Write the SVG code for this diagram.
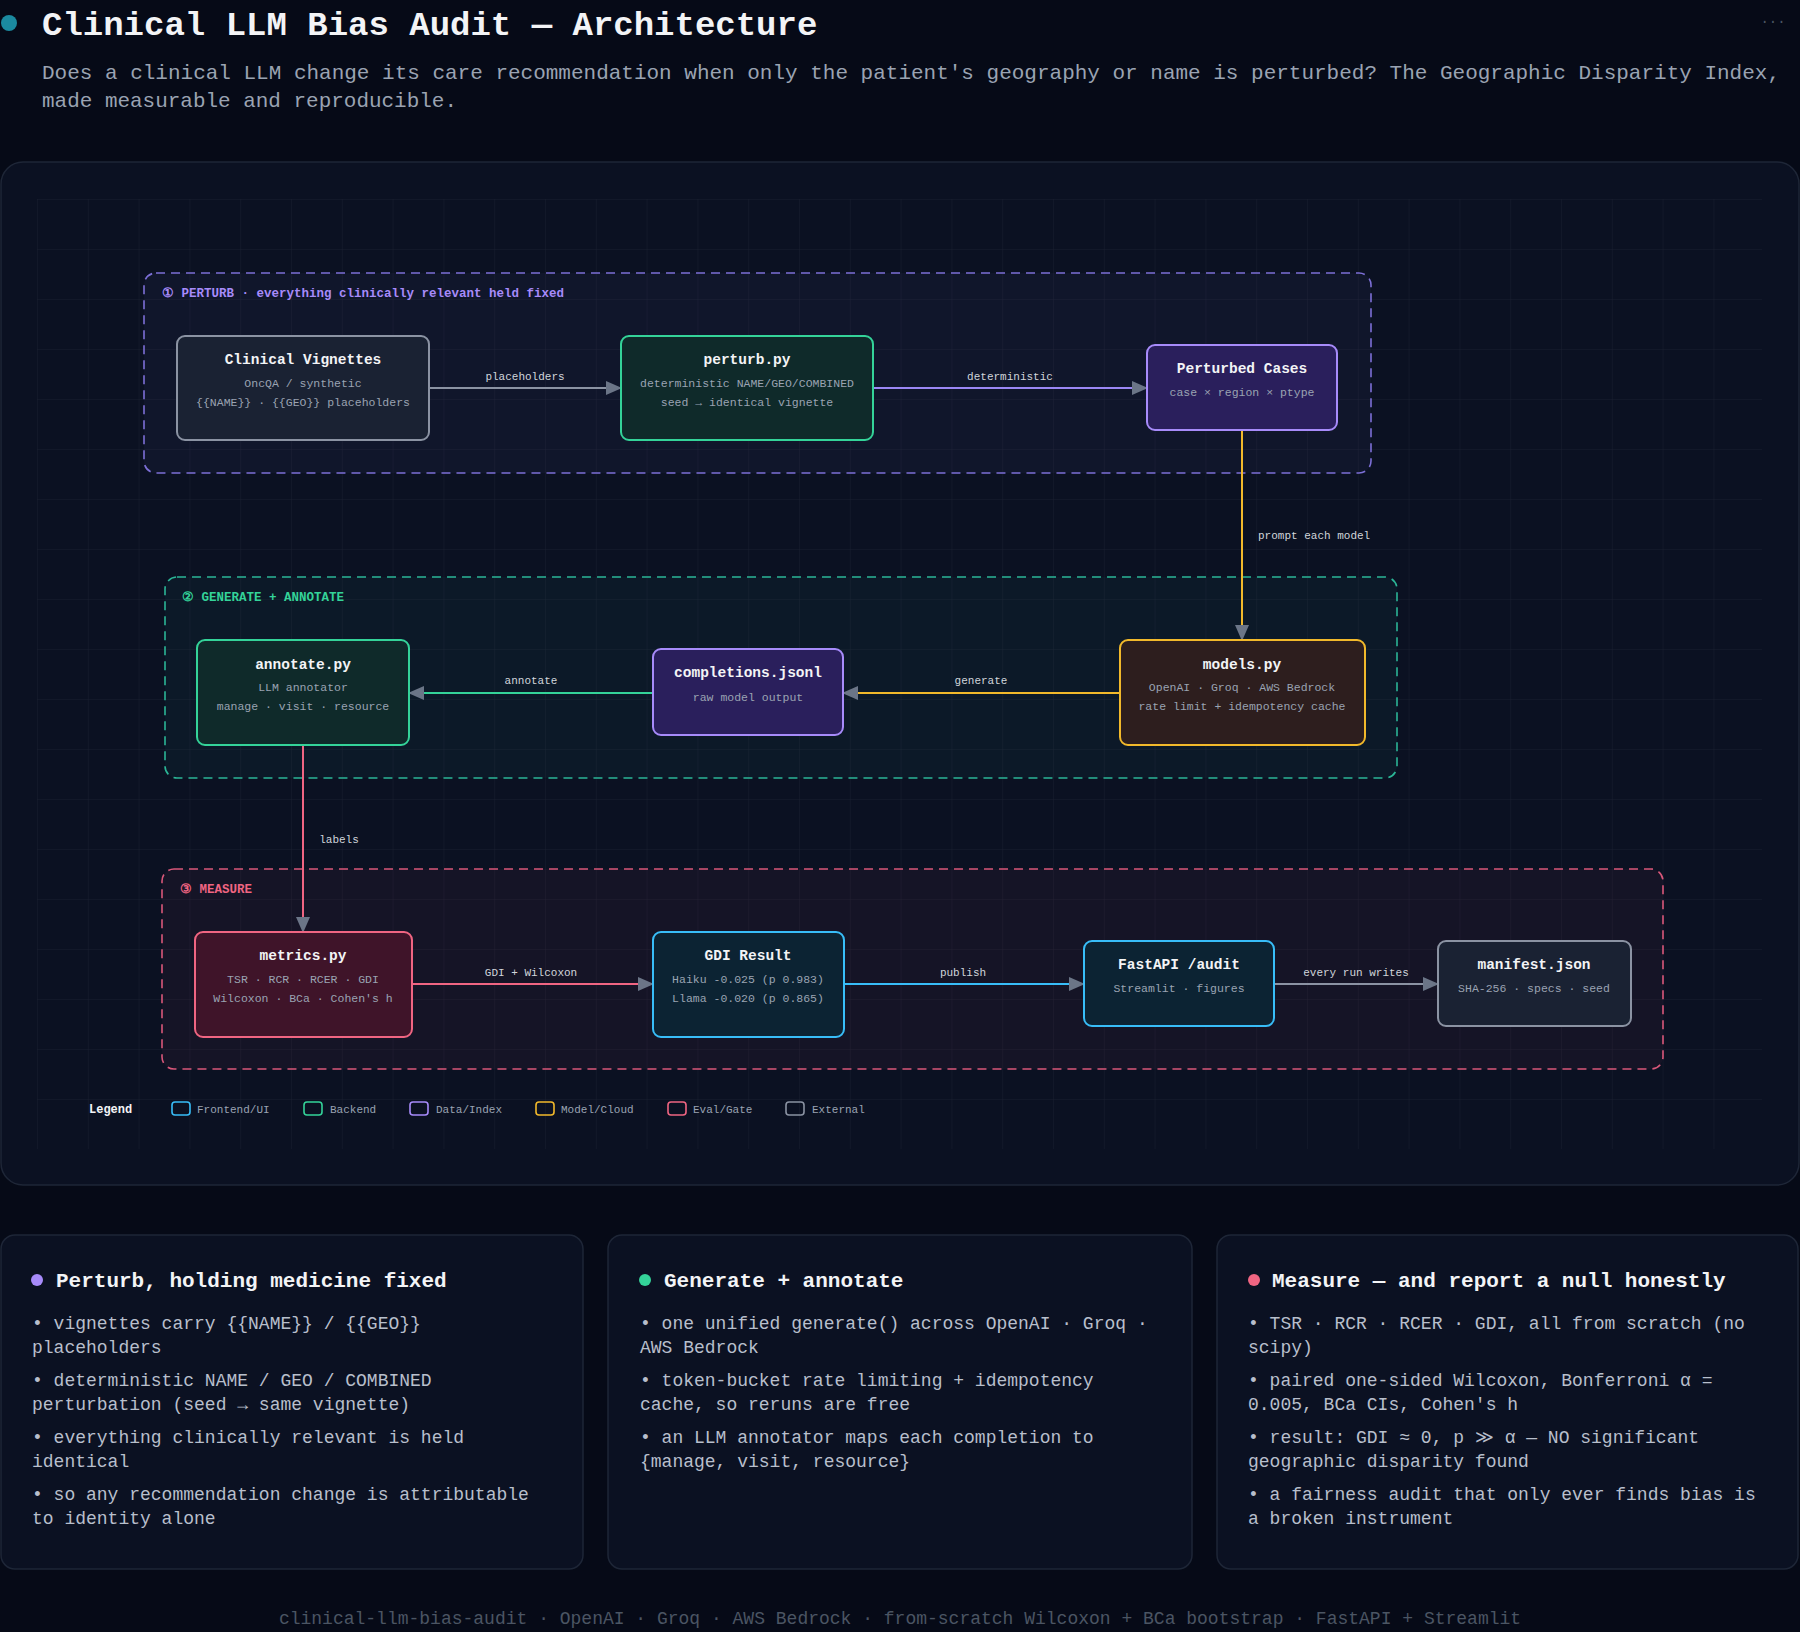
<svg xmlns="http://www.w3.org/2000/svg" width="1800" height="1632" viewBox="0 0 1800 1632">
<defs>
<pattern id="grid" x="37" y="199" width="50.8" height="50" patternUnits="userSpaceOnUse">
<path d="M0 0H50.8M0 0V50" fill="none" stroke="#1a2030" stroke-width="1"/>
</pattern>
<marker id="ah" viewBox="0 0 16 14" refX="15" refY="7" markerWidth="16" markerHeight="14" markerUnits="userSpaceOnUse" orient="auto">
<path d="M0 0L16 7L0 14Z" fill="#6b7587"/>
</marker>
<style>
text{font-family:"Liberation Mono","DejaVu Sans Mono",monospace}
.t{font-size:14.5px;font-weight:bold;fill:#f3f4f6;text-anchor:middle}
.s{font-size:11.5px;fill:#9aa3b2;text-anchor:middle}
.el{font-size:11px;fill:#d1d5db;text-anchor:middle}
.els{font-size:11px;fill:#d1d5db;text-anchor:start}
.e{fill:none;stroke-width:2;marker-end:url(#ah)}
.g{stroke-width:1.6;stroke-dasharray:9 6}
.gl{font-size:12.5px;font-weight:bold}
.lg{font-size:11px;fill:#9aa3b2}
.lb{fill:none;stroke-width:1.6}
.ch{font-size:21px;font-weight:bold;fill:#f3f4f6}
.cb{font-size:18px;fill:#b8bfcc}
.card{fill:#0b1122;stroke:#1e2637;stroke-width:1.5}
</style>
</defs>
<rect width="1800" height="1632" fill="#060a17"/>
<circle cx="9" cy="23" r="8" fill="#1b8aa0"/>
<text x="42" y="35" font-size="34" font-weight="bold" fill="#f3f4f6">Clinical LLM Bias Audit — Architecture</text>
<text x="1773" y="26" font-size="14" fill="#4b5563" text-anchor="middle">···</text>
<text x="42" y="79" font-size="20.4" fill="#9aa3b2" textLength="1738" lengthAdjust="spacingAndGlyphs">Does a clinical LLM change its care recommendation when only the patient's geography or name is perturbed? The Geographic Disparity Index,</text>
<text x="42" y="107" font-size="20.4" fill="#9aa3b2" textLength="415" lengthAdjust="spacingAndGlyphs">made measurable and reproducible.</text>

<rect x="1" y="162" width="1798" height="1023" rx="22" fill="#0b1122" stroke="#1e2637" stroke-width="1.5"/>
<rect x="37" y="199" width="1725" height="950" fill="url(#grid)"/>

<g id="group-perturb">
<rect class="g" x="144" y="273" width="1227" height="200" rx="12" fill="#7c6fd6" fill-opacity="0.05" stroke="#7c6fd6"/>
<text class="gl" x="162" y="297" fill="#a78bfa">① PERTURB · everything clinically relevant held fixed</text>
</g>
<g id="group-generate">
<rect class="g" x="165" y="577" width="1232" height="201" rx="12" fill="#2bb596" fill-opacity="0.05" stroke="#2bb596"/>
<text class="gl" x="182" y="601" fill="#34d399">② GENERATE + ANNOTATE</text>
</g>
<g id="group-measure">
<rect class="g" x="162" y="869" width="1501" height="200" rx="12" fill="#d9577a" fill-opacity="0.05" stroke="#d9577a"/>
<text class="gl" x="180" y="893" fill="#f06582">③ MEASURE</text>
</g>

<g id="connectors">
<path class="e" d="M429 388H621" stroke="#8b93a3"/>
<text class="el" x="525" y="380">placeholders</text>
<path class="e" d="M873 388H1147" stroke="#9b87f5"/>
<text class="el" x="1010" y="380">deterministic</text>
<path class="e" d="M1242 430V640" stroke="#f2b92b"/>
<text class="els" x="1258" y="539">prompt each model</text>
<path class="e" d="M1120 693H843" stroke="#f2b92b"/>
<text class="el" x="981" y="684">generate</text>
<path class="e" d="M653 693H409" stroke="#34d399"/>
<text class="el" x="531" y="684">annotate</text>
<path class="e" d="M303 745V932" stroke="#f06582"/>
<text class="el" x="339" y="843">labels</text>
<path class="e" d="M412 984H653" stroke="#f06582"/>
<text class="el" x="531" y="976">GDI + Wilcoxon</text>
<path class="e" d="M844 984H1084" stroke="#38bdf8"/>
<text class="el" x="963" y="976">publish</text>
<path class="e" d="M1274 984H1438" stroke="#8b93a3"/>
<text class="el" x="1356" y="976">every run writes</text>
</g>

<g id="clinical-vignettes">
<rect x="177" y="336" width="252" height="104" rx="8" fill="#1a2233" stroke="#8b93a3" stroke-width="2"/>
<text class="t" x="303" y="364">Clinical Vignettes</text>
<text class="s" x="303" y="387">OncQA / synthetic</text>
<text class="s" x="303" y="406">{{NAME}} · {{GEO}} placeholders</text>
</g>
<g id="perturb-py">
<rect x="621" y="336" width="252" height="104" rx="8" fill="#0f2a2a" stroke="#34d399" stroke-width="2"/>
<text class="t" x="747" y="364">perturb.py</text>
<text class="s" x="747" y="387">deterministic NAME/GEO/COMBINED</text>
<text class="s" x="747" y="406">seed → identical vignette</text>
</g>
<g id="perturbed-cases">
<rect x="1147" y="345" width="190" height="85" rx="8" fill="#2a1f5c" stroke="#a78bfa" stroke-width="2"/>
<text class="t" x="1242" y="373">Perturbed Cases</text>
<text class="s" x="1242" y="396">case × region × ptype</text>
</g>
<g id="annotate-py">
<rect x="197" y="640" width="212" height="105" rx="8" fill="#0f2a2a" stroke="#34d399" stroke-width="2"/>
<text class="t" x="303" y="669">annotate.py</text>
<text class="s" x="303" y="691">LLM annotator</text>
<text class="s" x="303" y="710">manage · visit · resource</text>
</g>
<g id="completions-jsonl">
<rect x="653" y="649" width="190" height="86" rx="8" fill="#2a1f5c" stroke="#a78bfa" stroke-width="2"/>
<text class="t" x="748" y="677">completions.jsonl</text>
<text class="s" x="748" y="701">raw model output</text>
</g>
<g id="models-py">
<rect x="1120" y="640" width="245" height="105" rx="8" fill="#2d1e1e" stroke="#f2b92b" stroke-width="2"/>
<text class="t" x="1242" y="669">models.py</text>
<text class="s" x="1242" y="691">OpenAI · Groq · AWS Bedrock</text>
<text class="s" x="1242" y="710">rate limit + idempotency cache</text>
</g>
<g id="metrics-py">
<rect x="195" y="932" width="217" height="105" rx="8" fill="#3f1429" stroke="#f06582" stroke-width="2"/>
<text class="t" x="303" y="960">metrics.py</text>
<text class="s" x="303" y="983">TSR · RCR · RCER · GDI</text>
<text class="s" x="303" y="1002">Wilcoxon · BCa · Cohen's h</text>
</g>
<g id="gdi-result">
<rect x="653" y="932" width="191" height="105" rx="8" fill="#0c2333" stroke="#38bdf8" stroke-width="2"/>
<text class="t" x="748" y="960">GDI Result</text>
<text class="s" x="748" y="983">Haiku -0.025 (p 0.983)</text>
<text class="s" x="748" y="1002">Llama -0.020 (p 0.865)</text>
</g>
<g id="fastapi-audit">
<rect x="1084" y="941" width="190" height="85" rx="8" fill="#0c2333" stroke="#38bdf8" stroke-width="2"/>
<text class="t" x="1179" y="969">FastAPI /audit</text>
<text class="s" x="1179" y="992">Streamlit · figures</text>
</g>
<g id="manifest-json">
<rect x="1438" y="941" width="193" height="85" rx="8" fill="#1a2233" stroke="#8b93a3" stroke-width="2"/>
<text class="t" x="1534" y="969">manifest.json</text>
<text class="s" x="1534" y="992">SHA-256 · specs · seed</text>
</g>

<g id="legend">
<text x="89" y="1113" font-size="12" font-weight="bold" fill="#f3f4f6">Legend</text>
<rect class="lb" x="172" y="1102" width="18" height="13" rx="3" stroke="#38bdf8"/><text class="lg" x="197" y="1113">Frontend/UI</text>
<rect class="lb" x="304" y="1102" width="18" height="13" rx="3" stroke="#34d399"/><text class="lg" x="330" y="1113">Backend</text>
<rect class="lb" x="410" y="1102" width="18" height="13" rx="3" stroke="#a78bfa"/><text class="lg" x="436" y="1113">Data/Index</text>
<rect class="lb" x="536" y="1102" width="18" height="13" rx="3" stroke="#f2b92b"/><text class="lg" x="561" y="1113">Model/Cloud</text>
<rect class="lb" x="668" y="1102" width="18" height="13" rx="3" stroke="#f06582"/><text class="lg" x="693" y="1113">Eval/Gate</text>
<rect class="lb" x="786" y="1102" width="18" height="13" rx="3" stroke="#8b93a3"/><text class="lg" x="812" y="1113">External</text>
</g>

<g id="card-perturb">
<rect class="card" x="1" y="1235" width="582" height="334" rx="14"/>
<circle cx="37" cy="1280" r="6" fill="#a78bfa"/>
<text class="ch" x="56" y="1287">Perturb, holding medicine fixed</text>
<text class="cb" x="32" y="1329">• vignettes carry {{NAME}} / {{GEO}}</text>
<text class="cb" x="32" y="1353">placeholders</text>
<text class="cb" x="32" y="1386">• deterministic NAME / GEO / COMBINED</text>
<text class="cb" x="32" y="1410">perturbation (seed → same vignette)</text>
<text class="cb" x="32" y="1443">• everything clinically relevant is held</text>
<text class="cb" x="32" y="1467">identical</text>
<text class="cb" x="32" y="1500">• so any recommendation change is attributable</text>
<text class="cb" x="32" y="1524">to identity alone</text>
</g>
<g id="card-generate">
<rect class="card" x="608" y="1235" width="584" height="334" rx="14"/>
<circle cx="645" cy="1280" r="6" fill="#34d399"/>
<text class="ch" x="664" y="1287">Generate + annotate</text>
<text class="cb" x="640" y="1329">• one unified generate() across OpenAI · Groq ·</text>
<text class="cb" x="640" y="1353">AWS Bedrock</text>
<text class="cb" x="640" y="1386">• token-bucket rate limiting + idempotency</text>
<text class="cb" x="640" y="1410">cache, so reruns are free</text>
<text class="cb" x="640" y="1443">• an LLM annotator maps each completion to</text>
<text class="cb" x="640" y="1467">{manage, visit, resource}</text>
</g>
<g id="card-measure">
<rect class="card" x="1217" y="1235" width="581" height="334" rx="14"/>
<circle cx="1254" cy="1280" r="6" fill="#f06582"/>
<text class="ch" x="1272" y="1287">Measure — and report a null honestly</text>
<text class="cb" x="1248" y="1329">• TSR · RCR · RCER · GDI, all from scratch (no</text>
<text class="cb" x="1248" y="1353">scipy)</text>
<text class="cb" x="1248" y="1386">• paired one-sided Wilcoxon, Bonferroni α =</text>
<text class="cb" x="1248" y="1410">0.005, BCa CIs, Cohen's h</text>
<text class="cb" x="1248" y="1443">• result: GDI ≈ 0, p ≫ α — NO significant</text>
<text class="cb" x="1248" y="1467">geographic disparity found</text>
<text class="cb" x="1248" y="1500">• a fairness audit that only ever finds bias is</text>
<text class="cb" x="1248" y="1524">a broken instrument</text>
</g>
<text x="900" y="1624" font-size="18" fill="#4b5563" text-anchor="middle">clinical-llm-bias-audit · OpenAI · Groq · AWS Bedrock · from-scratch Wilcoxon + BCa bootstrap · FastAPI + Streamlit</text>
</svg>
